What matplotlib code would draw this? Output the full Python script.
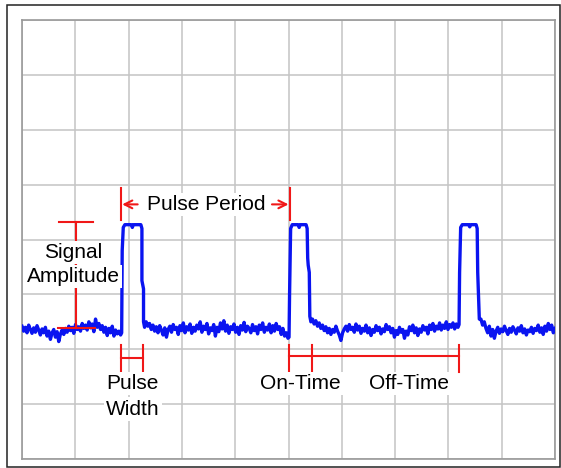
import matplotlib
matplotlib.use('Agg')
import numpy as np
import matplotlib.pyplot as plt
from matplotlib.patches import Rectangle

# eixo em divisões da tela (10 x 8)
n_div_x = 10
n_div_y = 8

# ruído da linha de base (em divisões)
ruido_a = [2.42, 2.33, 2.40, 2.30, 2.44, 2.36, 2.29, 2.39, 2.31, 2.43, 2.35, 2.26,
           2.37, 2.30, 2.40, 2.24, 2.33, 2.18, 2.30, 2.36, 2.22, 2.32, 2.14, 2.28,
           2.35, 2.27, 2.38, 2.31, 2.42, 2.34, 2.40, 2.29, 2.45, 2.36, 2.41, 2.33,
           2.47, 2.38, 2.44, 2.35, 2.50, 2.39, 2.46, 2.32, 2.55, 2.40, 2.47, 2.36,
           2.43, 2.31, 2.40, 2.25, 2.38, 2.30, 2.42, 2.24, 2.35, 2.28, 2.33, 2.26]
ruido_b = [2.50, 2.42, 2.47, 2.36, 2.44, 2.33, 2.41, 2.30, 2.43, 2.35, 2.26, 2.39,
           2.22, 2.36, 2.42, 2.31, 2.45, 2.36, 2.40, 2.27, 2.43, 2.34, 2.48, 2.30,
           2.41, 2.35, 2.46, 2.29, 2.40, 2.33, 2.44, 2.37, 2.50, 2.31, 2.42, 2.36,
           2.47, 2.28, 2.39, 2.34, 2.45, 2.24, 2.40, 2.32, 2.48, 2.37, 2.52, 2.33,
           2.44, 2.29, 2.41, 2.36, 2.46, 2.31, 2.40, 2.27, 2.43, 2.35, 2.49, 2.32,
           2.42, 2.38, 2.30, 2.45, 2.34, 2.41, 2.28, 2.44, 2.36, 2.48, 2.31, 2.40,
           2.35, 2.46, 2.30, 2.43, 2.33, 2.47, 2.36, 2.41, 2.27, 2.38, 2.24, 2.30,
           2.20]
ruido_c = [2.55, 2.46, 2.52, 2.42, 2.48, 2.38, 2.44, 2.34, 2.41, 2.30, 2.38, 2.27,
           2.36, 2.31, 2.42, 2.33, 2.26, 2.16, 2.30, 2.37, 2.42, 2.33, 2.45, 2.36,
           2.40, 2.31, 2.46, 2.35, 2.42, 2.29, 2.38, 2.33, 2.44, 2.30, 2.39, 2.25,
           2.36, 2.31, 2.43, 2.34, 2.40, 2.28, 2.37, 2.32, 2.45, 2.36, 2.41, 2.30,
           2.38, 2.22, 2.34, 2.27, 2.40, 2.31, 2.36, 2.20, 2.33, 2.26, 2.41, 2.34,
           2.44, 2.30, 2.39, 2.25, 2.37, 2.31, 2.43, 2.35, 2.40, 2.28, 2.44, 2.36,
           2.47, 2.33, 2.42, 2.37, 2.48, 2.35, 2.44, 2.38, 2.50, 2.36, 2.45, 2.40,
           2.48, 2.37, 2.46, 2.40]
ruido_d = [2.55, 2.44, 2.50, 2.38, 2.30, 2.42, 2.24, 2.36, 2.20, 2.33, 2.40, 2.29,
           2.37, 2.32, 2.42, 2.34, 2.27, 2.38, 2.31, 2.41, 2.35, 2.28, 2.39, 2.33,
           2.43, 2.30, 2.37, 2.26, 2.35, 2.32, 2.40, 2.29, 2.38, 2.34, 2.44, 2.31,
           2.39, 2.27, 2.42, 2.33, 2.47, 2.36, 2.44, 2.30, 2.38]
trechos_t = [(0.0, 1.85), (2.33, 4.99), (5.45, 8.18), (8.61, 10.0)]

# pulsos (tempo, nível) em divisões
pulso1_t = [1.87, 1.88, 1.90, 1.93, 2.05, 2.07, 2.09, 2.23, 2.25, 2.25, 2.28, 2.28, 2.30]
pulso1_v = [2.30, 3.80, 4.22, 4.27, 4.27, 4.22, 4.27, 4.27, 4.20, 3.25, 3.10, 2.50, 2.40]
pulso2_t = [5.01, 5.02, 5.04, 5.07, 5.18, 5.20, 5.22, 5.33, 5.35, 5.36, 5.37, 5.39, 5.40, 5.42]
pulso2_v = [2.22, 3.00, 4.20, 4.27, 4.27, 4.22, 4.27, 4.27, 4.20, 3.66, 3.53, 3.40, 2.60, 2.50]
pulso3_t = [8.20, 8.21, 8.23, 8.26, 8.38, 8.40, 8.42, 8.52, 8.54, 8.55, 8.57, 8.58]
pulso3_v = [2.45, 3.40, 4.22, 4.27, 4.27, 4.23, 4.27, 4.27, 4.20, 3.40, 2.80, 2.55]

# anotações
amp_x, amp_base, amp_topo = 1.01, 2.39, 4.32
periodo_ini, periodo_fim = 1.86, 5.03
largura_ini, largura_fim = 1.86, 2.27
on_ini, on_fim, off_fim = 5.01, 5.44, 8.20

ruidos = [ruido_a, ruido_b, ruido_c, ruido_d]
pulsos = [(pulso1_t, pulso1_v), (pulso2_t, pulso2_v), (pulso3_t, pulso3_v)]
t, v = [], []
for i, (ini, fim) in enumerate(trechos_t):
    r = ruidos[i]
    t += list(np.linspace(ini, fim, len(r)))
    v += r
    if i < 3:
        t += pulsos[i][0]
        v += pulsos[i][1]

plt.rcParams['font.family'] = ['Liberation Sans', 'DejaVu Sans']

fig = plt.figure(figsize=(5.61, 4.68), dpi=100)
ax = fig.add_axes([22 / 561, 9 / 468, 533 / 561, 439 / 468])
ax.set_xlim(0, n_div_x)
ax.set_ylim(0, n_div_y)
ax.set_xticks(range(n_div_x + 1))
ax.set_yticks(range(n_div_y + 1))
ax.tick_params(length=0, labelbottom=False, labelleft=False)
ax.grid(True, color='#c4c4c4', linewidth=1.1)
ax.set_axisbelow(True)
for s in ax.spines.values():
    s.set_color('#999999')
    s.set_linewidth(1.2)

ax.plot(t, v, color='#0a14f0', linewidth=2.4, zorder=3)

vermelho = '#f01818'
lw_r = 1.5
zr = 3.5
caixa = dict(facecolor='white', edgecolor='none', pad=1.5)
fs = 15

# Signal Amplitude
ax.plot([amp_x, amp_x], [amp_base, amp_topo], color=vermelho, lw=lw_r, zorder=zr)
ax.plot([0.69, 1.33], [amp_topo, amp_topo], color=vermelho, lw=lw_r, zorder=zr)
ax.plot([0.68, 1.37], [amp_base, amp_base], color=vermelho, lw=lw_r, zorder=zr)
ax.text(0.96, 3.77, 'Signal', fontsize=fs, ha='center', va='center', bbox=caixa, zorder=4)
ax.text(0.96, 3.32, 'Amplitude', fontsize=fs, ha='center', va='center', bbox=caixa, zorder=4)

# Pulse Period
for x in (periodo_ini, periodo_fim):
    ax.plot([x, x], [4.35, 4.94], color=vermelho, lw=lw_r, zorder=zr)
seta = dict(arrowstyle='->', color=vermelho, lw=1.5, mutation_scale=14,
            shrinkA=0, shrinkB=0)
ax.annotate('', xy=(1.88, 4.64), xytext=(2.17, 4.64), arrowprops=seta, zorder=4)
ax.annotate('', xy=(5.00, 4.64), xytext=(4.69, 4.64), arrowprops=seta, zorder=4)
ax.text(3.45, 4.64, 'Pulse Period', fontsize=fs, ha='center', va='center', bbox=caixa, zorder=4)

# Pulse Width
for x in (largura_ini, largura_fim):
    ax.plot([x, x], [1.58, 2.08], color=vermelho, lw=lw_r, zorder=zr)
ax.plot([largura_ini, largura_fim], [1.84, 1.84], color=vermelho, lw=lw_r, zorder=zr)
ax.text(2.08, 1.38, 'Pulse', fontsize=fs, ha='center', va='center', bbox=caixa, zorder=4)
ax.text(2.08, 0.91, 'Width', fontsize=fs, ha='center', va='center', bbox=caixa, zorder=4)

# On-Time / Off-Time
for x in (on_ini, on_fim, off_fim):
    ax.plot([x, x], [1.58, 2.08], color=vermelho, lw=lw_r, zorder=zr)
ax.plot([on_ini, off_fim], [1.88, 1.88], color=vermelho, lw=lw_r, zorder=zr)
ax.text(5.23, 1.38, 'On-Time', fontsize=fs, ha='center', va='center', bbox=caixa, zorder=4)
ax.text(7.26, 1.38, 'Off-Time', fontsize=fs, ha='center', va='center', bbox=caixa, zorder=4)

# moldura externa
fig.patches.append(Rectangle((7 / 561, 1 / 468), 553 / 561, 462 / 468, transform=fig.transFigure,
                             fill=False, edgecolor='#222222', linewidth=1.1))

fig.savefig('out.png', dpi=100, facecolor='white')
plt.close('all')
